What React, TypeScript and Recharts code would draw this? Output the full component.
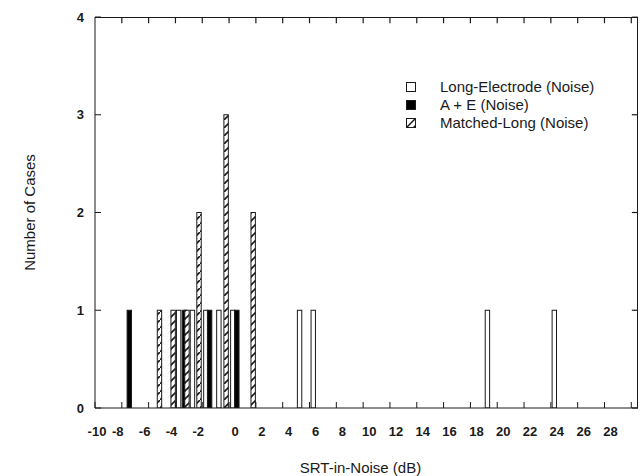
import React from "react";
import { ComposedChart, Bar, XAxis, YAxis, Legend, ReferenceLine } from "recharts";

// SRT-in-noise (dB) positions and case counts, per condition
const LONG_X = [-3.76, -2.73, -1.73, -0.76, 0.28, 5.26, 6.28, 19.27, 24.26];
const LONG_N = [1, 1, 1, 1, 1, 1, 1, 1, 1];
const AE_X = [-7.44, -3.33, -1.45, 0.58];
const AE_N = [1, 1, 1, 1];
const MATCHED_X = [-5.19, -4.17, -3.14, -2.24, -0.22, 1.8];
const MATCHED_N = [1, 1, 1, 2, 3, 2];

const X_TICKS = [-10, -8, -6, -4, -2, 0, 2, 4, 6, 8, 10, 12, 14, 16, 18, 20, 22, 24, 26, 28, 30];
const Y_TICKS = [0, 1, 2, 3, 4];

const SERIES = [
  { key: "long", name: "Long-Electrode (Noise)", fill: "#ffffff" },
  { key: "ae", name: "A + E (Noise)", fill: "#000000" },
  { key: "matched", name: "Matched-Long (Noise)", fill: "url(#hatch)" },
];

const X_MIN = -10;
const X_MAX = 30.5;
const Y_MAX = 4;
const TOP_EDGE = 3.998;
const RIGHT_EDGE = 30.49;

const rows: any[] = [];
LONG_X.forEach((x, i) => rows.push({ x, long: LONG_N[i] }));
AE_X.forEach((x, i) => rows.push({ x, ae: AE_N[i] }));
MATCHED_X.forEach((x, i) => rows.push({ x, matched: MATCHED_N[i] }));
rows.sort((a, b) => a.x - b.x);

const FONT = "'Liberation Sans', Arial, Helvetica, sans-serif";
const INK = "#1a1a1a";
const BAR_W = 4.4;
const TOP_TICK = 0.062;
const RIGHT_TICK = 0.45;

// chart box
const W = 640;
const H = 476;
const M = { top: 17, right: 2, bottom: 0, left: 0 };
const Y_AXIS_W = 95;
const X_AXIS_H = 68;

const makeBar = (fill: string) => (props: any) => {
  const { x, y, width, height } = props;
  if (!height || height <= 0) return <g />;
  const cx = x + width / 2;
  return (
    <rect x={cx - BAR_W / 2} y={y} width={BAR_W} height={height} fill={fill} stroke={INK} strokeWidth={1} />
  );
};

const XTick = ({ x, y, payload }: any) => {
  const v = payload.value;
  if (v > 28) return <g />;
  // labels in the original sit a little off their ticks
  const dx = v === -10 ? 2 : v < 0 ? -4 : 6;
  return (
    <text x={x + dx} y={y} dy="0.71em" textAnchor="middle" fontSize={13} fontWeight="bold" fill={INK} fontFamily={FONT}>
      {v}
    </text>
  );
};

const YTick = ({ x, y, payload }: any) => (
  <text x={x} y={y} dy="0.35em" textAnchor="end" fontSize={13} fontWeight="bold" fill={INK} fontFamily={FONT}>
    {payload.value}
  </text>
);

const Swatch = ({ kind }: { kind: string }) => {
  if (kind === "ae") return <rect x={0.5} y={0.5} width={9} height={9} fill="#000" stroke={INK} />;
  if (kind === "matched")
    return (
      <g>
        <rect x={0.5} y={0.5} width={9} height={9} fill="#fff" stroke={INK} />
        <line x1={0.5} y1={9.5} x2={9.5} y2={0.5} stroke={INK} strokeWidth={1.5} />
        <path d="M6.5 9.5 L9.5 9.5 L9.5 6.5 Z" fill={INK} />
      </g>
    );
  return <rect x={0.5} y={0.5} width={9} height={9} fill="#fff" stroke={INK} />;
};

const renderLegend = () => (
  <div style={{ fontFamily: FONT, fontSize: 15, color: INK, lineHeight: "18px" }}>
    {SERIES.map((s) => (
      <div key={s.key} style={{ display: "flex", alignItems: "center" }}>
        <svg width={10} height={10} style={{ marginRight: 24 }}>
          <Swatch kind={s.key} />
        </svg>
        <span>{s.name}</span>
      </div>
    ))}
  </div>
);

export default function App() {
  return (
    <div style={{ position: "absolute", left: 0, top: 0, width: W, height: H, background: "#fff" }}>
      <ComposedChart width={W} height={H} data={rows} margin={M}>
        <defs>
          <pattern id="hatch" patternUnits="userSpaceOnUse" width={8} height={8}>
            <rect width={8} height={8} fill="#fff" />
            <line x1={0} y1={8} x2={8} y2={0} stroke={INK} strokeWidth={1.6} />
          </pattern>
        </defs>
        <XAxis
          dataKey="x"
          type="number"
          domain={[X_MIN, X_MAX]}
          allowDataOverflow
          ticks={X_TICKS}
          interval={0}
          height={X_AXIS_H}
          tickSize={-6}
          tickMargin={25}
          tick={<XTick />}
          stroke={INK}
          label={{ value: "SRT-in-Noise (dB)", position: "insideBottom", offset: 3, dx: -6, style: { fontFamily: FONT, fontSize: 15, fill: INK } }}
        />
        <YAxis
          type="number"
          domain={[0, Y_MAX]}
          allowDataOverflow
          ticks={Y_TICKS}
          interval={0}
          width={Y_AXIS_W}
          tickSize={-6}
          tickMargin={17}
          tick={<YTick />}
          stroke={INK}
          label={{ value: "Number of Cases", angle: -90, position: "insideLeft", offset: 30, style: { fontFamily: FONT, fontSize: 15, fill: INK, textAnchor: "middle" } }}
        />
        {SERIES.map((s) => (
          <Bar key={s.key} dataKey={s.key} name={s.name} stackId="cases" fill={s.fill} shape={makeBar(s.fill)} isAnimationActive={false} />
        ))}
        {/* mirrored inward ticks on the top and right edges */}
        {X_TICKS.filter((t) => t > X_MIN).map((t) => (
          <ReferenceLine key={`tt${t}`} segment={[{ x: t, y: TOP_EDGE }, { x: t, y: TOP_EDGE - TOP_TICK }]} stroke={INK} strokeWidth={1.2} />
        ))}
        {Y_TICKS.map((t) => (
          <ReferenceLine
            key={`rt${t}`}
            segment={[{ x: RIGHT_EDGE - RIGHT_TICK, y: Math.min(t, TOP_EDGE) }, { x: RIGHT_EDGE, y: Math.min(t, TOP_EDGE) }]}
            stroke={INK}
            strokeWidth={1.2}
          />
        ))}
        <Legend
          layout="vertical"
          align="center"
          verticalAlign="middle"
          content={renderLegend}
          wrapperStyle={{ left: 406, top: 78, width: 230 }}
        />
      </ComposedChart>
      {/* top and right sides of the plot frame */}
      <div
        style={{
          position: "absolute",
          left: M.left + Y_AXIS_W,
          top: M.top,
          width: W - M.left - M.right - Y_AXIS_W,
          height: H - M.top - M.bottom - X_AXIS_H,
          borderTop: `1px solid ${INK}`,
          borderRight: `1px solid ${INK}`,
          boxSizing: "border-box",
          pointerEvents: "none",
        }}
      />
    </div>
  );
}
